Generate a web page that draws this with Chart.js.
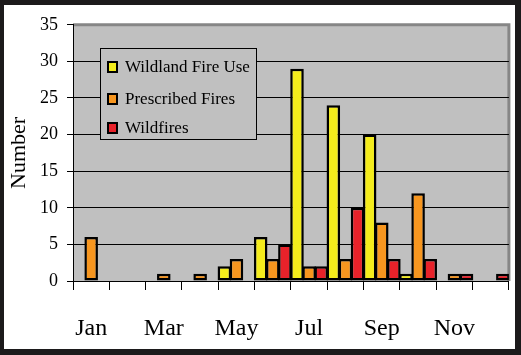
<!DOCTYPE html>
<html>
<head>
<meta charset="utf-8">
<script src="https://cdn.jsdelivr.net/npm/chart.js@4"></script>
<style>
  html, body { margin: 0; padding: 0; background: #1c1a1b; width: 521px; height: 355px; overflow: hidden; }
  #frame { position: absolute; left: 4px; top: 5px; width: 511px; height: 344px; background: #fff; }
  canvas { display: block; }
</style>
</head>
<body>
<div id="frame"><canvas id="myChart" width="511" height="344"></canvas></div>
<script>
const months = ["Jan", "Feb", "Mar", "Apr", "May", "Jun", "Jul", "Aug", "Sep", "Oct", "Nov", "Dec"];
// null = no bar that month
const wildlandFireUse = [null, null, null, null, 2, 6, 29, 24, 20, 1, null, null];
const prescribedFires = [6, null, 1, 1, 3, 3, 2, 3, 8, 12, 1, null];
const wildfires = [null, null, null, null, null, 5, 2, 10, 3, 3, 1, 1];
const yTicks = [0, 5, 10, 15, 20, 25, 30, 35];

const SERIF = "'Liberation Serif', 'Times New Roman', serif";

// grey plot background + grey top/right border
const plotArea = {
  id: "plotArea",
  beforeDraw(chart) {
    const { ctx, chartArea: a } = chart;
    ctx.save();
    ctx.fillStyle = "#c0c0c0";
    ctx.fillRect(a.left, a.top, a.right - a.left, a.bottom - a.top);
    ctx.strokeStyle = "#868686";
    ctx.lineWidth = 3;
    ctx.beginPath();
    ctx.moveTo(a.left, a.top);
    ctx.lineTo(a.right, a.top);
    ctx.lineTo(a.right, a.bottom);
    ctx.stroke();
    ctx.restore();
  },
};

// boxed legend sitting inside the plot
const boxLegend = {
  id: "boxLegend",
  afterDatasetsDraw(chart) {
    const { ctx } = chart;
    const x = 96, y = 43, w = 156, h = 91;
    ctx.save();
    ctx.fillStyle = "#c0c0c0";
    ctx.fillRect(x, y, w, h);
    ctx.strokeStyle = "#000";
    ctx.lineWidth = 1;
    ctx.strokeRect(x + 0.5, y + 0.5, w, h);
    const rows = [19, 51, 80];
    chart.data.datasets.forEach((ds, i) => {
      const cy = y + rows[i];
      ctx.fillStyle = ds.backgroundColor;
      ctx.fillRect(x + 7, cy - 6, 11, 12);
      ctx.lineWidth = 2;
      ctx.strokeStyle = "#000";
      ctx.strokeRect(x + 8, cy - 5, 9, 10);
      ctx.fillStyle = "#000";
      ctx.font = "17px " + SERIF;
      ctx.textBaseline = "middle";
      ctx.fillText(ds.label, x + 25, cy + 1);
    });
    ctx.restore();
  },
};

const barStyle = {
  borderColor: "#000",
  borderWidth: 2.5,
  borderSkipped: false,
  categoryPercentage: 1,
  barPercentage: 1.12,
};

function drawChart() {
  new Chart(document.getElementById("myChart"), {
    type: "bar",
    data: {
      labels: months,
      datasets: [
        { label: "Wildland Fire Use", data: wildlandFireUse, backgroundColor: "#f4ec1c", ...barStyle },
        { label: "Prescribed Fires", data: prescribedFires, backgroundColor: "#f7961f", ...barStyle },
        { label: "Wildfires", data: wildfires, backgroundColor: "#e8222a", ...barStyle },
      ],
    },
    options: {
      responsive: false,
      animation: false,
      devicePixelRatio: 1,
      layout: { padding: { top: 16, right: 6, left: 0, bottom: 0 } },
      plugins: {
        legend: { display: false },
        tooltip: { enabled: false },
      },
      scales: {
        x: {
          afterFit(scale) { scale.height = 68; },
          grid: {
            offset: true,
            drawOnChartArea: false,
            color: "#000",
            tickLength: 9,
          },
          border: { color: "#000", width: 1 },
          ticks: {
            autoSkip: false,
            maxRotation: 0,
            padding: 24,
            color: "#000",
            font: { family: SERIF, size: 24 },
            callback: function (value, index) {
              return index % 2 === 0 ? months[index] : "";
            },
          },
        },
        y: {
          min: 0,
          max: 35,
          afterFit(scale) { scale.width = 69; },
          afterBuildTicks(scale) { scale.ticks = yTicks.map((v) => ({ value: v })); },
          grid: {
            color: (ctx) => (ctx.tick && ctx.tick.value === 35 ? "rgba(0,0,0,0)" : "#000"),
            tickColor: "#000",
            tickLength: 6,
          },
          border: { color: "#000", width: 1 },
          ticks: {
            padding: 9,
            color: "#000",
            font: { family: SERIF, size: 18 },
          },
          title: {
            display: true,
            text: "Number",
            color: "#000",
            font: { family: SERIF, size: 22 },
            padding: { top: 2, bottom: 0 },
          },
        },
      },
    },
    plugins: [plotArea, boxLegend],
  });
}

// make sure the serif face is ready before the canvas draws text
Promise.all([
  document.fonts.load("18px 'Liberation Serif'"),
  document.fonts.load("17px 'Liberation Serif'"),
]).then(drawChart, drawChart);
</script>
</body>
</html>
